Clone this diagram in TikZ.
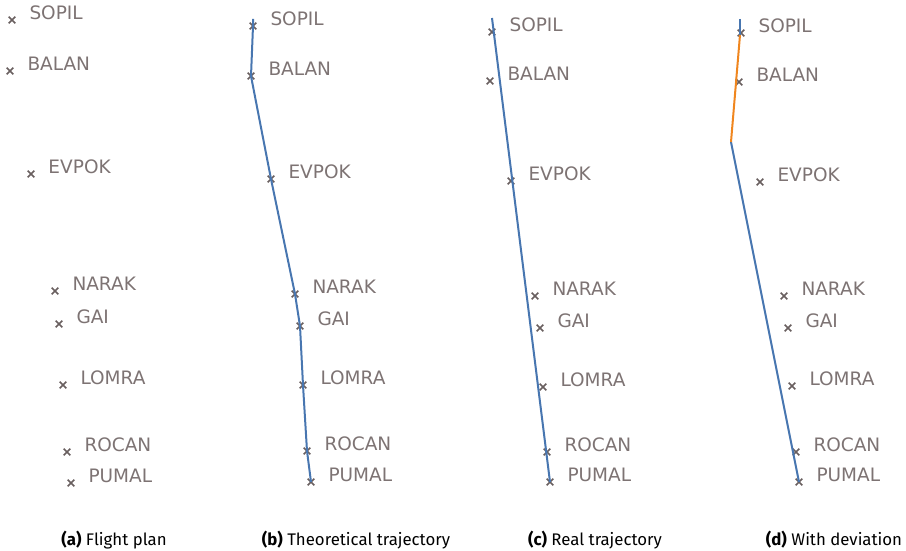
\documentclass[tikz,border=0pt]{standalone}
\usepackage{fontspec}
\setmainfont{Fira Sans}
\newfontfamily\wpfont{DejaVu Sans}
\usetikzlibrary{positioning}
\usetikzlibrary{shapes.misc}
\definecolor{wpgray}{RGB}{125,115,115}
\definecolor{markgray}{RGB}{105,95,95}
\definecolor{trajblue}{RGB}{72,118,176}
\definecolor{devorange}{RGB}{240,134,30}
\tikzset{
  wpt/.style={cross out,draw=markgray,line width=1.6pt,minimum size=5pt,inner sep=0pt},
  wplabel/.style={text=wpgray,font=\wpfont\fontsize{18.5}{18.5}\selectfont,inner sep=0pt,anchor=west},
  traj/.style={trajblue,line width=2pt,line join=round},
  dev/.style={devorange,line width=2pt,line join=round},
  caption/.style={font=\fontsize{16.8}{16.8}\selectfont,inner sep=0pt}
}

\begin{document}
\begin{tikzpicture}[x=1pt,y=-1pt]
		\useasboundingbox (0,0) rectangle (906,551);
		% (a) flight plan
		\foreach \name/\x/\y in {SOPIL/12/20,BALAN/10/71,EVPOK/31/174,NARAK/55/291,
		                         GAI/59/324,LOMRA/63/385,ROCAN/67/452,PUMAL/71/483}{
		  \node[wpt] (a-\name) at (\x,\y) {};
		  \node[wplabel,right=14pt of a-\name,yshift=7pt] {\name};
		}
		% (b) theoretical trajectory
		\foreach \name/\x/\y in {SOPIL/253/26,BALAN/251/76,EVPOK/271/179,NARAK/295/294,
		                         GAI/300/326,LOMRA/303/385,ROCAN/307/451,PUMAL/311/482}{
		  \node[wpt] (b-\name) at (\x,\y) {};
		  \node[wplabel,right=14pt of b-\name,yshift=7pt] {\name};
		}
		\coordinate (b-start) at (253,19);
		\draw[traj] (b-start) -- (b-SOPIL.center) -- (b-BALAN.center) -- (b-EVPOK.center)
		  -- (b-NARAK.center) -- (b-GAI.center) -- (b-LOMRA.center) -- (b-ROCAN.center)
		  -- (b-PUMAL.center);
		% (c) real trajectory
		\foreach \name/\x/\y in {SOPIL/492/32,BALAN/490/81,EVPOK/511/181,NARAK/535/296,
		                         GAI/540/328,LOMRA/543/387,ROCAN/547/452,PUMAL/550/482}{
		  \node[wpt] (c-\name) at (\x,\y) {};
		  \node[wplabel,right=14pt of c-\name,yshift=7pt] {\name};
		}
		\coordinate (c-start) at (492,18);
		\draw[traj] (c-start) -- (c-PUMAL.center);
		% (d) with deviation
		\foreach \name/\x/\y in {SOPIL/741/33,BALAN/739/82,EVPOK/760/182,NARAK/784/296,
		                         GAI/788/328,LOMRA/792/386,ROCAN/796/452,PUMAL/799/482}{
		  \node[wpt] (d-\name) at (\x,\y) {};
		  \node[wplabel,right=14pt of d-\name,yshift=7pt] {\name};
		}
		\coordinate (d-start) at (740,19);
		\coordinate (d-dev) at (740,35);
		\coordinate (d-back) at (731,142);
		\draw[traj] (d-start) -- (d-dev);
		\draw[traj] (d-back) -- (d-PUMAL.center);
		\draw[dev] (d-dev) -- (d-back);
		% captions
		\node[caption] (cap-a) at (114,540) {\textbf{(a)} Flight plan};
		\node[caption] (cap-b) at (356,540) {\textbf{(b)} Theoretical trajectory};
		\node[caption] (cap-c) at (595,540) {\textbf{(c)} Real trajectory};
		\node[caption] (cap-d) at (834,540) {\textbf{(d)} With deviation};
	\end{tikzpicture}
\end{document}
